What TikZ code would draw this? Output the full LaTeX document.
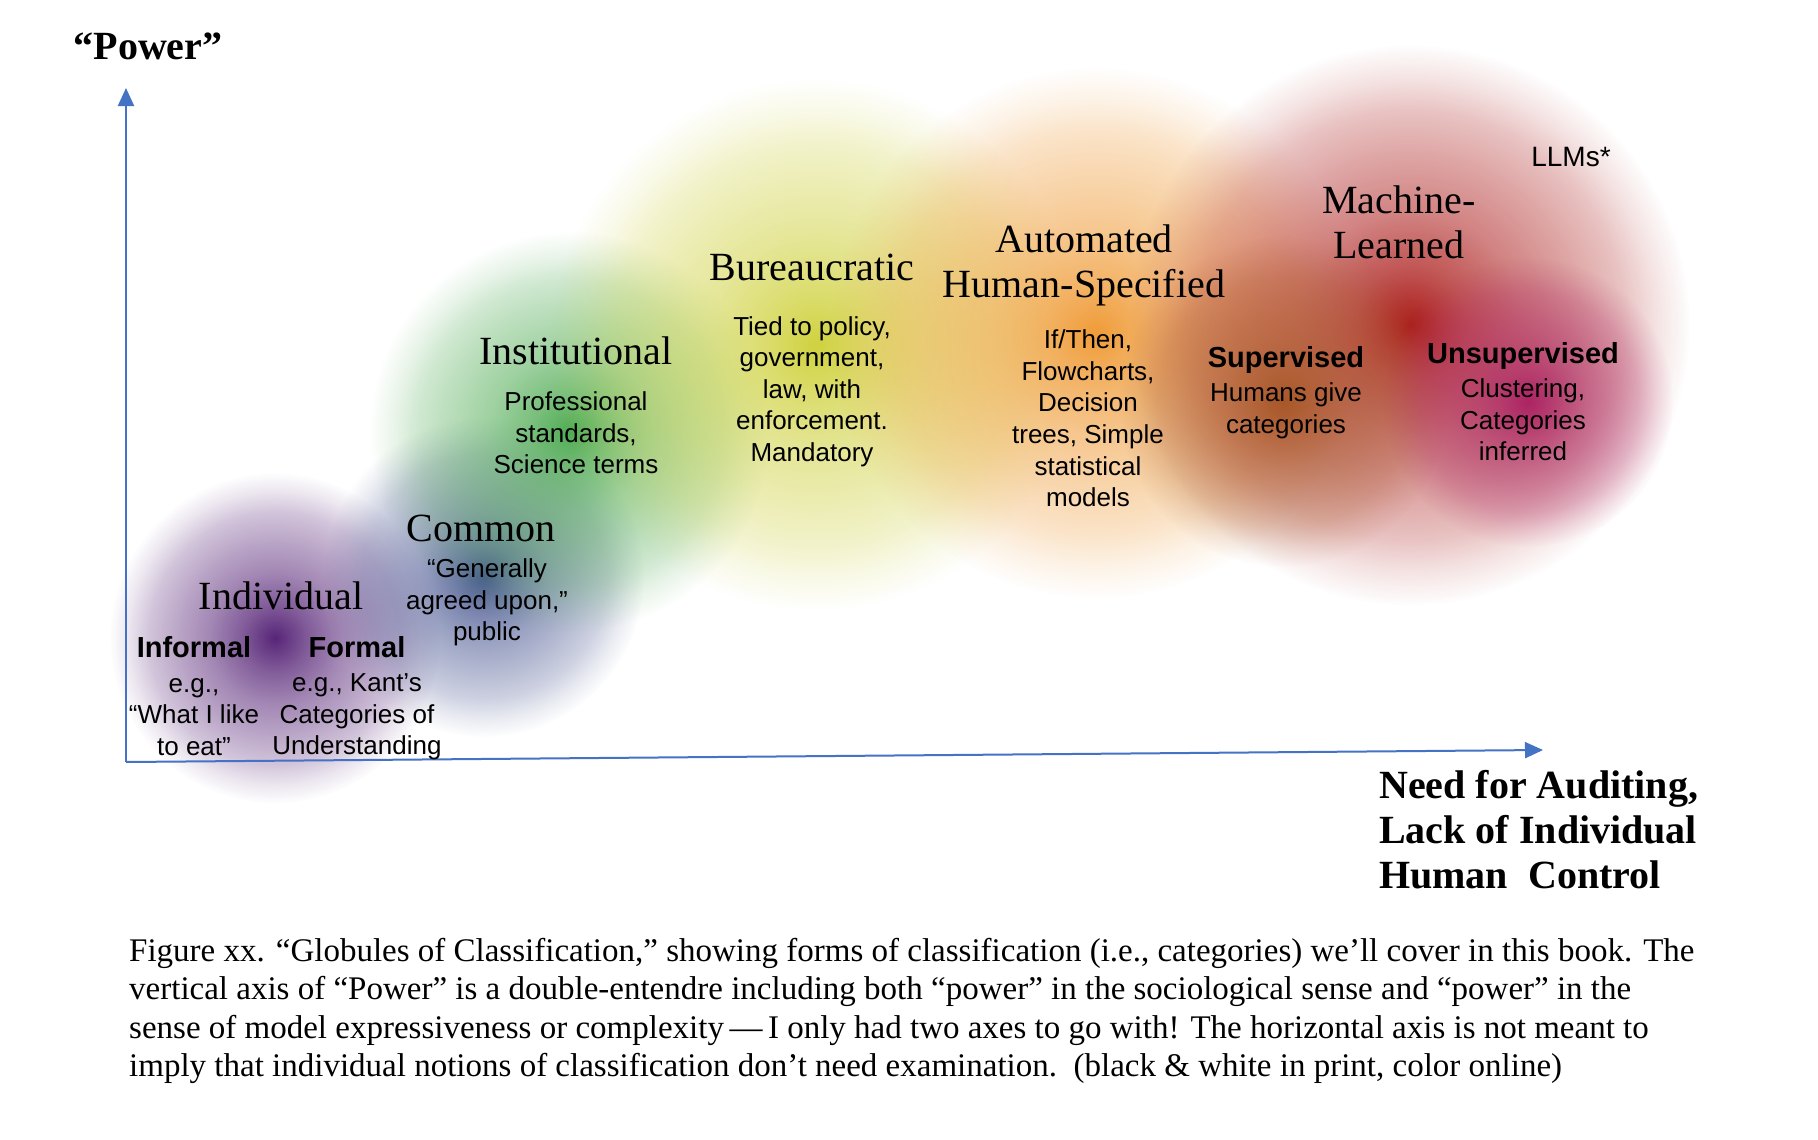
\documentclass[tikz,border=0pt]{standalone}
\usepackage{fontspec}
\setmainfont{Liberation Serif}
\newfontfamily\hv{Liberation Sans}
\usetikzlibrary{arrows.meta,fadings}

\pgfdeclareradialshading{globshade}{\pgfpointorigin}{%
  color(0bp)=(white);
  color(5bp)=(white!75!black);
  color(10bp)=(white!55!black);
  color(15bp)=(white!40!black);
  color(19bp)=(white!27!black);
  color(22bp)=(white!12!black);
  color(25bp)=(black);
  color(50bp)=(black)}
\pgfdeclarefading{glob}{\pgfuseshading{globshade}}

\definecolor{cPurple}{RGB}{88,38,120}
\definecolor{cBlue}{RGB}{72,86,145}
\definecolor{cGreen}{RGB}{80,172,84}
\definecolor{cYellow}{RGB}{208,210,64}
\definecolor{cOrange}{RGB}{240,156,56}
\definecolor{cRed}{RGB}{172,30,28}
\definecolor{cBrown}{RGB}{168,88,40}
\definecolor{cMagenta}{RGB}{172,36,100}
\definecolor{axisblue}{RGB}{68,114,196}

\tikzset{
  globule/.style={fill=#1, path fading=glob},
  axisline/.style={draw=axisblue, line width=2pt, -{Triangle[length=18pt,width=16pt]}},
  ttl/.style={font=\fontsize{40}{45}\selectfont, align=center, inner sep=0pt},
  txt/.style={font=\hv\fontsize{26}{31.6}\selectfont, align=center, inner sep=0pt},
  lbl/.style={font=\hv\bfseries\fontsize{29}{34}\selectfont, inner sep=0pt},
  axlbl/.style={font=\bfseries\fontsize{40}{45}\selectfont, inner sep=0pt},
}

\begin{document}
\begin{tikzpicture}[x=1pt,y=-1pt]
\fill[white] (0,0) rectangle (1818,1140);
\path[use as bounding box] (0,0) rectangle (1818,1140);

% globules
\path[globule=cPurple]  (275,638)  circle (165);
\path[globule=cBlue]    (484,577)  circle (160);
\path[globule=cGreen]   (570,432)  circle (200);
\path[globule=cYellow]  (816,345)  circle (265);
\path[globule=cOrange]  (1096,333) circle (265);
\path[globule=cRed]     (1410,325) circle (280);
\path[globule=cBrown]   (1283,402) circle (165);
\path[globule=cMagenta] (1528,402) circle (145);

% axes
\coordinate (O) at (126,762);
\coordinate (ytip) at (126,88);
\coordinate (xtip) at (1543,750);
\draw[axisline] (O) -- (ytip);
\draw[axisline] (O) -- (xtip);

\node[axlbl] (pw) at (148,46) {“Power”};
\node[axlbl, align=left, anchor=west] (need) at (1379,830)
  {Need for Auditing,\\Lack of Individual\\Human\ \ Control};

% texts
\node[ttl] (indT) at (281,596) {Individual};
\node[lbl] (infL) at (194,647) {Informal};
\node[txt] (infX) at (194,717) {e.g.,\\“What I like\\to eat”};
\node[lbl] (forL) at (357,647) {Formal};
\node[txt] (forX) at (357,717) {e.g., Kant’s\\Categories of\\Understanding};
\node[ttl] (comT) at (481,528) {Common};
\node[txt] (comX) at (487,602.5) {“Generally\\agreed upon,”\\public};
\node[ttl] (insT) at (576,351) {Institutional};
\node[txt] (insX) at (576,433) {Professional\\standards,\\Science terms};
\node[ttl] (burT) at (812,267) {Bureaucratic};
\node[txt] (burX) at (812,391.5) {Tied to policy,\\government,\\law, with\\enforcement.\\Mandatory};
\node[ttl] (autT) at (1084,265.5) {Automated\\Human-Specified};
\node[txt] (autX) at (1088,418.5) {If/Then,\\Flowcharts,\\Decision\\trees, Simple\\statistical\\models};
\node[ttl] (mlT) at (1399,222) {Machine-\\Learned};
\node[txt, font=\hv\fontsize{28}{32}\selectfont] (llm) at (1571,157) {LLMs*};
\node[lbl] (supL) at (1286,359.5) {Supervised};
\node[txt] (supX) at (1286,410.5) {Humans give\\categories};
\node[lbl] (unsL) at (1523,356) {Unsupervised};
\node[txt] (unsX) at (1523,420) {Clustering,\\Categories\\inferred};

% caption
\node[font=\fontsize{33}{38.3}\selectfont, align=left, anchor=north west, inner sep=0pt] (cap) at (129,938)
 {Figure xx. “Globules of Classification,” showing forms of classification (i.e., categories) we’ll cover in this book. The\\
  vertical axis of “Power” is a double-entendre including both “power” in the sociological sense and “power” in the\\
  sense of model expressiveness or complexity\,—\,I only had two axes to go with! The horizontal axis is not meant to\\
  imply that individual notions of classification don’t need examination.\ \ (black \& white in print, color online)};
\end{tikzpicture}
\end{document}
